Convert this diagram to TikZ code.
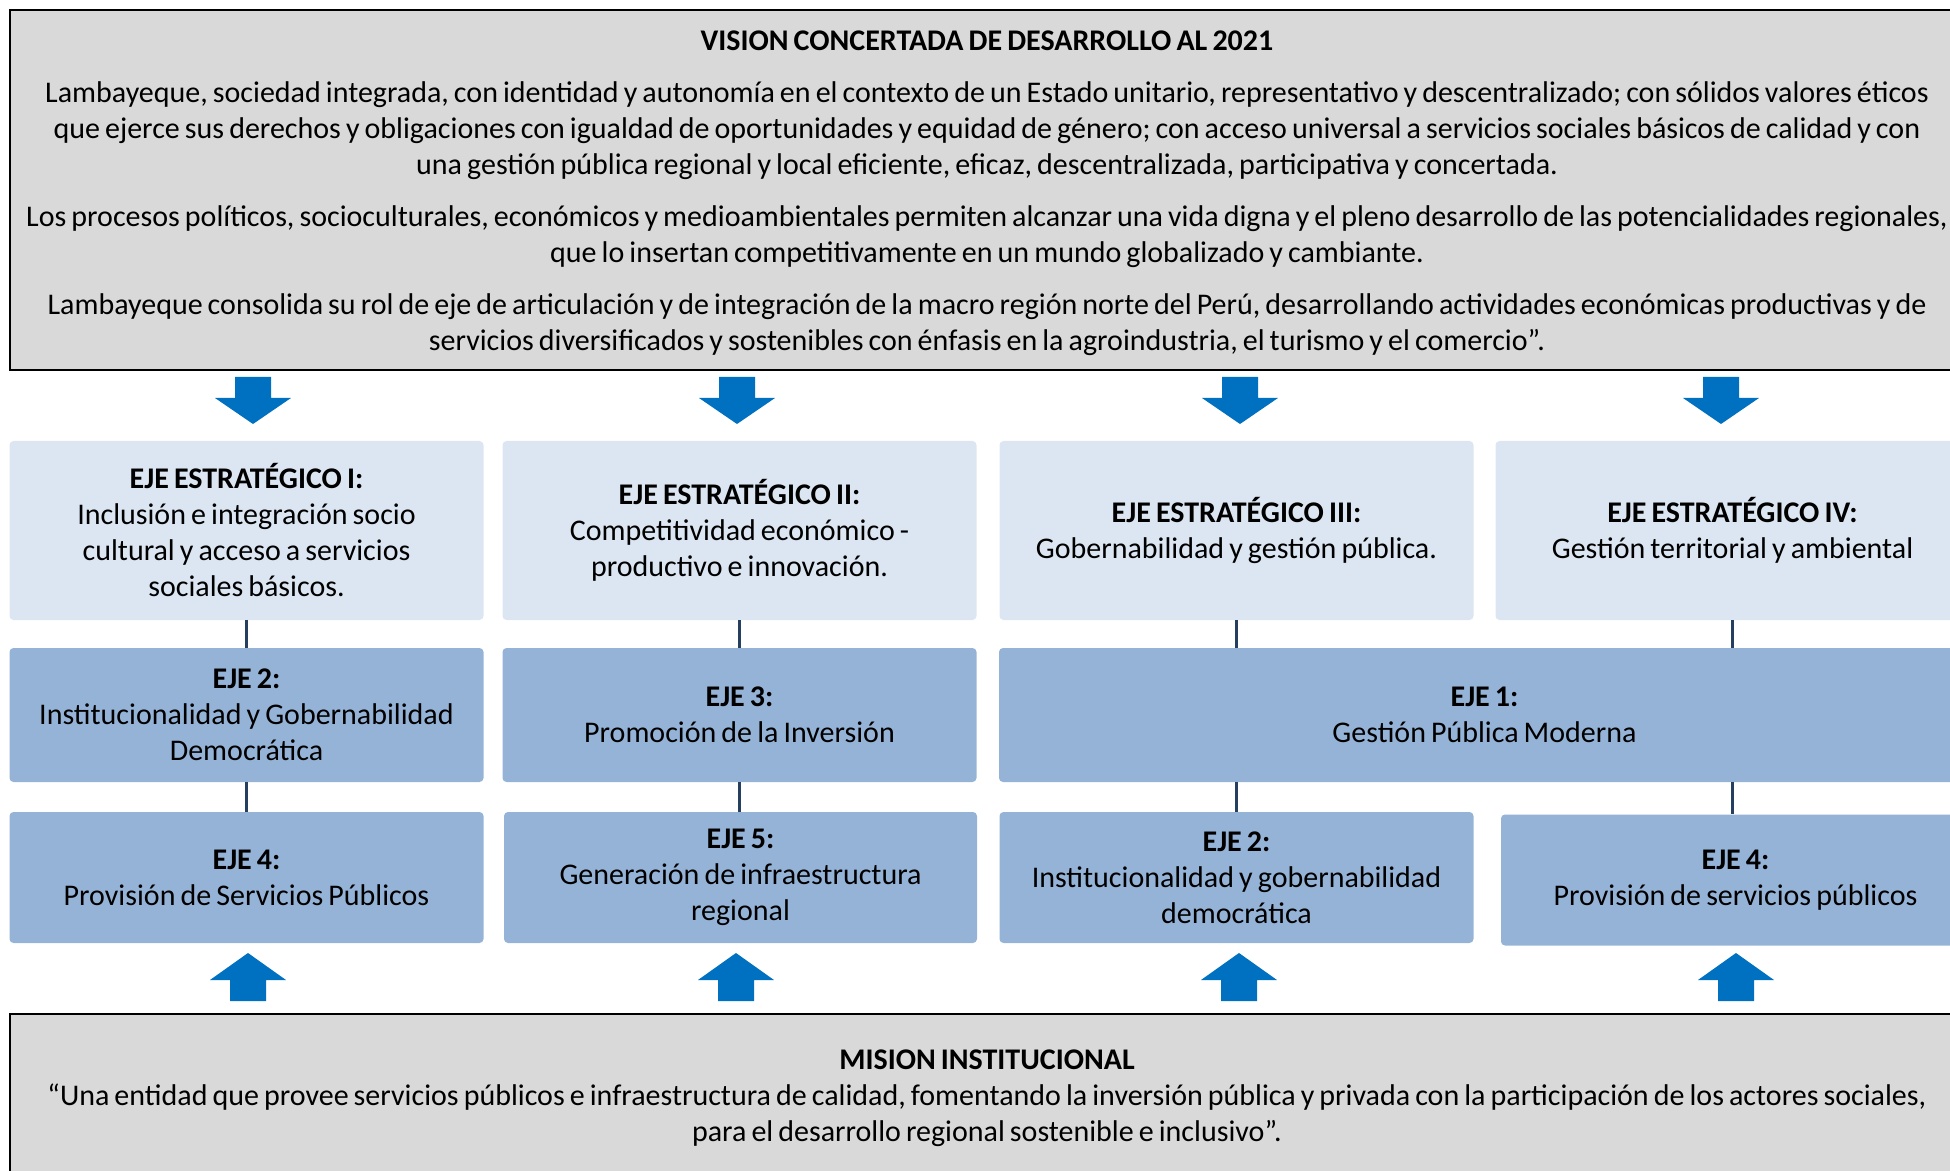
\documentclass[tikz,border=0pt]{standalone}
\usepackage{fontspec}
\setmainfont{Carlito}[WordSpace=0.75]

\definecolor{visiongray}{HTML}{D9D9D9}
\definecolor{ejelight}{HTML}{DCE6F2}
\definecolor{ejeblue}{HTML}{95B3D7}
\definecolor{arrowblue}{HTML}{0070C0}
\definecolor{linknavy}{HTML}{243F60}

\begin{document}
\begin{tikzpicture}[x=0.5pt, y=-0.5pt,
    every node/.style={font=\fontsize{15}{18}\selectfont},
    framebox/.style={draw=black, line width=1pt, fill=visiongray, inner sep=0pt, align=flush center},
    ejetop/.style={fill=ejelight, rounded corners=2pt, minimum width=237pt, minimum height=89.5pt, inner sep=0pt, align=center},
    ejemid/.style={fill=ejeblue, rounded corners=2pt, minimum width=237pt, minimum height=67pt, inner sep=0pt, align=center},
    ejelow/.style={fill=ejeblue, rounded corners=2pt, minimum width=237pt, minimum height=65.5pt, inner sep=0pt, align=center},
    link/.style={draw=linknavy, line width=1.5pt}]

        \useasboundingbox (0,0) rectangle (1950,1171);
        \clip (0,0) rectangle (1950,1171);

        % Vision box
        \node[framebox, minimum width=977pt, minimum height=180pt, text width=975pt] (vision) at (987,190)
            {\\[-5pt]\textbf{VISION CONCERTADA DE DESARROLLO AL 2021}\\[8pt]
             Lambayeque, sociedad integrada, con identidad y autonomía en el contexto de un Estado unitario, representativo y descentralizado; con sólidos valores éticos\\
             que ejerce sus derechos y obligaciones con igualdad de oportunidades y equidad de género; con acceso universal a servicios sociales básicos de calidad y con\\
             una gestión pública regional y local eficiente, eficaz, descentralizada, participativa y concertada.\\[8pt]
             Los procesos políticos, socioculturales, económicos y medioambientales permiten alcanzar una vida digna y el pleno desarrollo de las potencialidades regionales,\\
             que lo insertan competitivamente en un mundo globalizado y cambiante.\\[8pt]
             Lambayeque consolida su rol de eje de articulación y de integración de la macro región norte del Perú, desarrollando actividades económicas productivas y de\\
             servicios diversificados y sostenibles con énfasis en la agroindustria, el turismo y el comercio”.};

        % Down arrows
        \foreach \x in {253,737,1240,1721}
            \fill[arrowblue] (\x-18,377) -- (\x+18,377) -- (\x+18,398) -- (\x+38,398)
                -- (\x,424) -- (\x-38,398) -- (\x-18,398) -- cycle;

        % Strategic axes
        \node[ejetop] (est1) at (246.5,530.5) {\textbf{EJE ESTRATÉGICO I:}\\Inclusión e integración socio\\cultural y acceso a servicios\\sociales básicos.};
        \node[ejetop] (est2) at (739.5,530.5) {\textbf{EJE ESTRATÉGICO II:}\\Competitividad económico -\\productivo e innovación.};
        \node[ejetop] (est3) at (1236.5,530.5) {\textbf{EJE ESTRATÉGICO III:}\\Gobernabilidad y gestión pública.};
        \node[ejetop] (est4) at (1732.5,530.5) {\textbf{EJE ESTRATÉGICO IV:}\\Gestión territorial y ambiental};

        % Middle row
        \node[ejemid] (mid1) at (246.5,715) {\textbf{EJE 2:}\\Institucionalidad y Gobernabilidad\\Democrática};
        \node[ejemid] (mid2) at (739.5,715) {\textbf{EJE 3:}\\Promoción de la Inversión};
        \node[ejemid, minimum width=485.5pt] (mid3) at (1484.5,715) {\textbf{EJE 1:}\\Gestión Pública Moderna};

        % Lower row
        \node[ejelow] (low1) at (246.5,877.5) {\textbf{EJE 4:}\\Provisión de Servicios Públicos};
        \node[ejelow, minimum width=236.5pt] (low2) at (740.5,877.5) {\textbf{EJE 5:}\\Generación de infraestructura\\regional};
        \node[ejelow] (low3) at (1236.5,877.5) {\textbf{EJE 2:}\\Institucionalidad y gobernabilidad\\democrática};
        \node[ejelow, minimum width=234.5pt] (low4) at (1735.5,880) {\textbf{EJE 4:}\\Provisión de servicios públicos};

        % Links
        \draw[link] (est1.south) -- (mid1.north);
        \draw[link] (est2.south) -- (mid2.north);
        \draw[link] (est3.south) -- (est3.south |- mid3.north);
        \draw[link] (est4.south) -- (est4.south |- mid3.north);
        \draw[link] (mid1.south) -- (mid1.south |- low1.north);
        \draw[link] (mid2.south) -- (mid2.south |- low2.north);
        \draw[link] (est3.south |- mid3.south) -- (low3.north);
        \draw[link] (est4.south |- mid3.south) -- (est4.south |- low4.north);

        % Up arrows
        \foreach \x in {248,736,1239,1736}
            \fill[arrowblue] (\x-18,1001) -- (\x+18,1001) -- (\x+18,980) -- (\x+38,980)
                -- (\x,953) -- (\x-38,980) -- (\x-18,980) -- cycle;

        % Mission box
        \node[framebox, minimum width=977pt, minimum height=84.5pt, text width=975pt] (mision) at (987,1098.5)
            {\textbf{MISION INSTITUCIONAL}\\
             “Una entidad que provee servicios públicos e infraestructura de calidad, fomentando la inversión pública y privada con la participación de los actores sociales,\\
             para el desarrollo regional sostenible e inclusivo”.};

    \end{tikzpicture}
\end{document}
